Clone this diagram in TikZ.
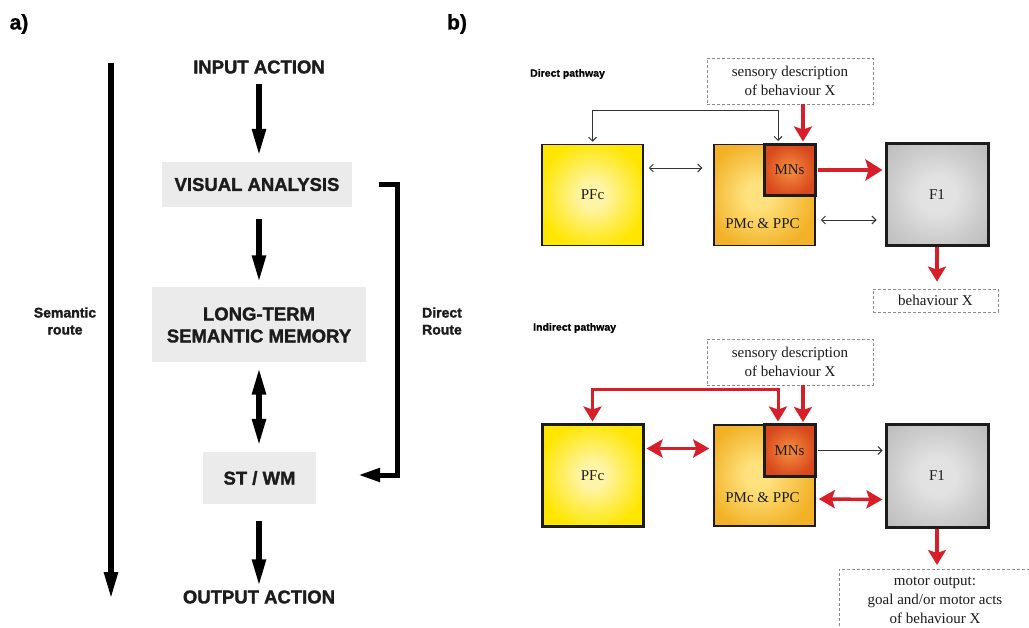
\documentclass[tikz,border=0pt]{standalone}
\usepackage{fontspec}
\setmainfont{Liberation Serif}
\newfontfamily\hsans[BoldFeatures={FakeBold=1.6}]{Liberation Sans}
\newfontfamily\hsanslight[BoldFeatures={FakeBold=0.8}]{Liberation Sans}
\usetikzlibrary{arrows.meta,calc}

\definecolor{boxgray}{HTML}{EBEBEB}
\definecolor{arrred}{HTML}{D71F2A}
\definecolor{ink}{HTML}{1C1C1C}
\definecolor{thinink}{HTML}{333333}
\definecolor{dashgray}{HTML}{8C8C8C}
\definecolor{yelC}{HTML}{FFF4A6}
\definecolor{yelE}{HTML}{FFE600}
\definecolor{ambC}{HTML}{FFE27E}
\definecolor{ambE}{HTML}{F2B126}
\definecolor{redC}{HTML}{F0823A}
\definecolor{redE}{HTML}{D8481C}
\definecolor{gryC}{HTML}{E2E2E2}
\definecolor{gryM}{HTML}{CDCDCD}
\definecolor{gryE}{HTML}{BDBDBD}

% soft radial fills for the cortical areas
\pgfdeclareradialshading{yellowglow}{\pgfpoint{0bp}{0bp}}{color(0bp)=(yelC); color(6bp)=(yelC); color(27bp)=(yelE); color(50bp)=(yelE)}
\pgfdeclareradialshading{amberglow}{\pgfpoint{-4bp}{0bp}}{color(0bp)=(ambC); color(6bp)=(ambC); color(28bp)=(ambE); color(50bp)=(ambE)}
\pgfdeclareradialshading{redglow}{\pgfpoint{0bp}{0bp}}{color(0bp)=(redC); color(5bp)=(redC); color(26bp)=(redE); color(50bp)=(redE)}
\pgfdeclareradialshading{grayglow}{\pgfpoint{0bp}{0bp}}{color(0bp)=(gryC); color(9bp)=(gryC); color(22bp)=(gryM); color(34bp)=(gryE); color(50bp)=(gryE)}

\tikzset{
  flowtxt/.style={font=\hsans\bfseries\fontsize{18.5}{22}\selectfont, text=ink, inner sep=0pt, align=center},
  flowbox/.style={flowtxt, fill=boxgray},
  routetxt/.style={font=\hsans\bfseries\fontsize{14}{17}\selectfont, text=ink, inner sep=0pt, align=center},
  panellbl/.style={font=\hsanslight\bfseries\fontsize{21}{23}\selectfont, text=black, inner sep=0pt},
  pathlbl/.style={font=\hsanslight\bfseries\fontsize{10.5}{12}\selectfont, text=black, inner sep=0pt, anchor=west},
  bigarrow/.style={draw=black, line width=5.5pt, -{Triangle[length=27pt,width=13pt]}},
  bigtwin/.style={draw=black, line width=5.5pt, {Triangle[length=27pt,width=13pt]}-{Triangle[length=27pt,width=13pt]}},
  area/.style={minimum width=101pt, minimum height=101pt, inner sep=0pt, draw=ink, shade,
    font=\fontsize{15}{18}\selectfont, text=ink},
  thinrim/.style={line width=1.5pt},
  thickrim/.style={line width=3pt},
  areatxt/.style={font=\fontsize{15}{18}\selectfont, text=ink, inner sep=0pt},
  dashbox/.style={draw=dashgray, line width=0.8pt, dash pattern=on 3pt off 2pt, inner sep=0pt,
    font=\fontsize{15}{19}\selectfont, text=ink, align=center},
  redarr/.style={draw=arrred, line width=3.5pt, -{Stealth[length=15pt,width=18pt,inset=3pt]}},
  redbig/.style={draw=arrred, line width=4pt, -{Stealth[length=17pt,width=21pt,inset=3pt]}},
  redtwin/.style={draw=arrred, line width=3.5pt, {Stealth[length=16pt,width=18pt,inset=3pt]}-{Stealth[length=16pt,width=18pt,inset=3pt]}},
  redloop/.style={draw=arrred, line width=3pt, {Stealth[length=15pt,width=18pt,inset=3pt]}-{Stealth[length=15pt,width=18pt,inset=3pt]}},
  thintwin/.style={draw=thinink, line width=0.9pt, {Straight Barb[length=4pt,width=8pt]}-{Straight Barb[length=4pt,width=8pt]}},
  thinone/.style={draw=thinink, line width=0.9pt, -{Straight Barb[length=4pt,width=8pt]}},
}

\begin{document}
\begin{tikzpicture}[x=1pt,y=-1pt, line join=miter]
\clip (0,0) rectangle (1029,628);
\fill[white] (0,0) rectangle (1029,628);

% ---------------- panel a ----------------
\node[panellbl] (pa) at (19,24) {a)};
\node[panellbl] (pb) at (457,24) {b)};

\node[flowtxt] (in) at (259,67) {INPUT ACTION};
\node[flowbox, minimum width=190pt, minimum height=45pt] (va) at (257,184.5) {VISUAL ANALYSIS};
\node[flowbox, minimum width=214pt, minimum height=75pt] (ltm) at (259,325) {LONG-TERM\\SEMANTIC MEMORY};
\node[flowbox, minimum width=113pt, minimum height=52pt] (st) at (259.5,478) {ST / WM};
\node[flowtxt] (out) at (259,597) {OUTPUT ACTION};

% main processing chain, all arrows on the axis of the title texts
\draw[bigarrow] ([yshift=-10pt]in.south) -- ([yshift=6pt]in.south |- va.north);
\draw[bigarrow] ([yshift=-12pt]in.south |- va.south) -- ([yshift=5pt]in.south |- ltm.north);
\draw[bigtwin] ([yshift=-5pt]in.south |- ltm.south) -- ([yshift=6pt]in.south |- st.north);
\draw[bigarrow] ([yshift=-17pt]in.south |- st.south) -- ([yshift=4pt]in.south |- out.north);

% semantic route
\coordinate (semtop) at (111,63);
\coordinate (sembot) at (111,599);
\draw[bigarrow] (semtop) -- (sembot);
\node[routetxt] (semlbl) at (65,321) {Semantic\\route};

% direct route
\draw[draw=black, line width=5pt, -{Triangle[length=22pt,width=13pt]}]
  ([xshift=27pt]va.east) -- ++(18.5,0) |- ([xshift=42pt,yshift=3pt]st.east);
\node[routetxt] (dirlbl) at (442,321) {Direct\\Route};

% ---------------- panel b, direct pathway ----------------
\node[pathlbl] (dp) at (530,74) {Direct pathway};
\node[dashbox, minimum width=166pt, minimum height=46pt] (sa) at (790,81) {sensory description\\of behaviour X};

\node[area, thinrim, shading=yellowglow] (pfc1) at (592.5,195) {PFc};
\node[area, thinrim, shading=amberglow] (pmc1) at (764.5,195) {};
\node[area, thickrim, minimum size=51pt, shading=redglow] (mns1) at (789.5,170) {MNs};
\node[areatxt] (pp1) at (762.5,224) {PMc \& PPC};
\node[area, thickrim, minimum size=102pt, shading=grayglow] (f1a) at (937,195) {F1};
\node[dashbox, minimum width=125pt, minimum height=23pt] (bx1) at (935.5,300.5) {behaviour X};

\draw[thintwin] ([yshift=2pt]pfc1.north) -- ++(0,-31) -| ([xshift=-11.5pt,yshift=2pt]mns1.north);
\draw[redarr] ([xshift=13pt]sa.south) -- ([xshift=13pt,yshift=1.5pt]sa.south |- mns1.north);
\draw[thintwin] ([xshift=5pt,yshift=27pt]pfc1.east) -- ([xshift=-11pt,yshift=27pt]pmc1.west);
\draw[redbig, shorten <=1.5pt, shorten >=2pt] (mns1.east) -- (f1a.west |- mns1.east);
\draw[thintwin] ([xshift=5pt,yshift=-25pt]pmc1.east) -- ([xshift=-8pt,yshift=-25pt]f1a.west);
\draw[redarr] (f1a.south) -- ([yshift=7pt]f1a.south |- bx1.north);

% ---------------- panel b, indirect pathway ----------------
\node[pathlbl] (ip) at (533,328) {Indirect pathway};
\node[dashbox, minimum width=166pt, minimum height=46pt] (sb) at (790,362) {sensory description\\of behaviour X};

\node[area, thickrim, shading=yellowglow] (pfc2) at (592.5,475.5) {PFc};
\node[area, thinrim, shading=amberglow] (pmc2) at (764.5,475.5) {};
\node[area, thickrim, minimum size=51pt, shading=redglow] (mns2) at (789.5,450.5) {MNs};
\node[areatxt] (pp2) at (762.5,498) {PMc \& PPC};
\node[area, thickrim, minimum size=102pt, shading=grayglow] (f1b) at (937,476) {F1};
\node[dashbox, minimum width=192pt, minimum height=62pt, anchor=north] (mo) at (935,569)
  {motor output:\\goal and/or motor acts\\of behaviour X};

\draw[redloop] ([yshift=2pt]pfc2.north) -- ++(0,-32) -| ([xshift=-11.5pt,yshift=2pt]mns2.north);
\draw[redarr] ([xshift=13pt]sb.south) -- ([xshift=13pt,yshift=1.5pt]sb.south |- mns2.north);
\draw[redtwin] ([xshift=2pt,yshift=27pt]pfc2.east) -- ([xshift=-4pt,yshift=27pt]pmc2.west);
\draw[thinone, shorten <=1.5pt, shorten >=2pt] (mns2.east) -- (f1b.west |- mns2.east);
\draw[redtwin] ([xshift=3pt,yshift=-23.5pt]pmc2.east) -- ([xshift=-2pt,yshift=-23.5pt]f1b.west);
\draw[redarr] (f1b.south) -- ([yshift=4pt]f1b.south |- mo.north);
\end{tikzpicture}
\end{document}
